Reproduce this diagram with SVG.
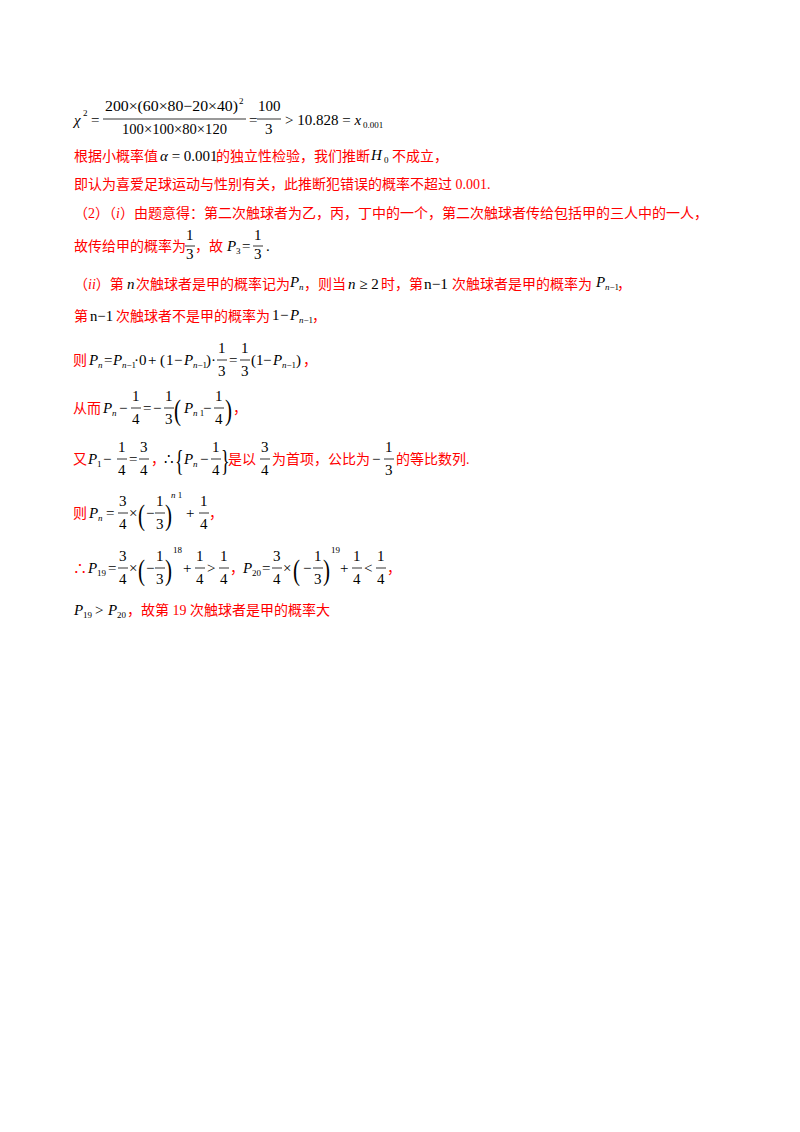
<svg xmlns="http://www.w3.org/2000/svg" width="800" height="1132" viewBox="0 0 800 1132">
<style>
.r{fill:#ff0000;font-family:"Liberation Serif","Noto Sans CJK SC",serif;font-size:14px}
.m{fill:#000;font-family:"Liberation Serif",serif;font-size:15px}
.i{font-style:italic}
.s{font-size:9px}
.f{stroke:#000;stroke-width:0.8}
.b{fill:#000;font-family:"Liberation Serif",serif;font-size:30px}
</style>
<rect width="800" height="1132" fill="#fff"/>
<g id="line1">
<text class="m i" x="74" y="125">χ</text><text class="m s" x="83" y="116">2</text>
<text class="m" x="91" y="125">=</text>
<text class="m" x="105" y="111" textLength="133" lengthAdjust="spacingAndGlyphs">200×(60×80−20×40)</text><text class="m s" x="239" y="104">2</text>
<line class="f" x1="103" y1="119" x2="246" y2="119"/>
<text class="m" x="122" y="134" textLength="105" lengthAdjust="spacingAndGlyphs">100×100×80×120</text>
<text class="m" x="249" y="125">=</text>
<text class="m" x="258" y="111">100</text><line class="f" x1="257" y1="119" x2="281" y2="119"/><text class="m" x="265" y="134">3</text>
<text class="m" x="285" y="125">&gt; 10.828 = <tspan class="i">x</tspan></text><text class="m s" x="363" y="128">0.001</text>
</g>
<g id="line2">
<text class="r" x="74" y="161">根据小概率值</text>
<text class="m" x="160" y="161"><tspan class="i">α</tspan> = 0.001</text>
<text class="r" x="216" y="161">的独立性检验，我们推断</text>
<text class="m i" x="371" y="160" font-size="16">H</text><text class="m s" x="384" y="163">0</text>
<text class="r" x="392" y="161">不成立，</text>
</g>
<text class="r" x="74" y="189">即认为喜爱足球运动与性别有关，此推断犯错误的概率不超过 0.001.</text>
<text class="r" x="74" y="218">（2）（<tspan font-style="italic">i</tspan>）由题意得：第二次触球者为乙，丙，丁中的一个，第二次触球者传给包括甲的三人中的一人，</text>
<g id="line5">
<text class="r" x="74" y="251">故传给甲的概率为</text>
<text class="m" x="186" y="240">1</text><line class="f" x1="185" y1="246" x2="195" y2="246"/><text class="m" x="186" y="259">3</text>
<text class="r" x="195" y="251">，故</text>
<text class="m i" x="227" y="251">P</text><text class="m s" x="236" y="254">3</text>
<text class="m" x="242" y="251">=</text>
<text class="m" x="254" y="240">1</text><line class="f" x1="253" y1="246" x2="263" y2="246"/><text class="m" x="254" y="259">3</text>
<text class="m" x="266" y="251">.</text>
</g>
<g id="line6">
<text class="r" x="74" y="289">（<tspan font-style="italic">ii</tspan>）第</text>
<text class="m i" x="127" y="289">n</text>
<text class="r" x="136" y="289">次触球者是甲的概率记为</text>
<text class="m i" x="290" y="287" font-size="16">P</text><text class="m s i" x="299" y="290">n</text>
<text class="r" x="304" y="289">，则当</text>
<text class="m" x="348" y="289"><tspan class="i">n</tspan> ≥ 2</text>
<text class="r" x="381" y="289">时，第</text>
<text class="m" x="424" y="289" textLength="24" lengthAdjust="spacingAndGlyphs">n−1</text>
<text class="r" x="452" y="289">次触球者是甲的概率为</text>
<text class="m i" x="596" y="287" font-size="16">P</text><text class="m s" x="605" y="290"><tspan class="i">n</tspan>−1</text>
<text class="r" x="617" y="289">，</text>
</g>
<g id="line7">
<text class="r" x="74" y="321">第</text>
<text class="m" x="90" y="321" textLength="23" lengthAdjust="spacingAndGlyphs">n−1</text>
<text class="r" x="116" y="321">次触球者不是甲的概率为</text>
<text class="m" x="272" y="320">1</text><text class="m" x="280" y="320">−</text><text class="m i" x="290" y="320">P</text><text class="m s" x="299" y="323"><tspan class="i">n</tspan>−1</text>
<text class="r" x="312" y="321">，</text>
</g>
<g id="line8">
<text class="r" x="73" y="365">则</text>
<text class="m i" x="89" y="365">P</text><text class="m s i" x="98" y="368">n</text>
<text class="m" x="104" y="365">=</text>
<text class="m i" x="113" y="365">P</text><text class="m s" x="122" y="368"><tspan class="i">n</tspan>−1</text>
<text class="m" x="134" y="365">·</text><text class="m" x="139" y="365">0</text><text class="m" x="148" y="365">+</text>
<text class="m" x="160" y="365">(</text><text class="m" x="166" y="365">1</text><text class="m" x="174" y="365">−</text>
<text class="m i" x="184" y="365">P</text><text class="m s" x="193" y="368"><tspan class="i">n</tspan>−1</text>
<text class="m" x="206" y="365">)</text><text class="m" x="211" y="365">·</text>
<text class="m" x="218" y="353">1</text><line class="f" x1="217" y1="360" x2="227" y2="360"/><text class="m" x="218" y="376">3</text>
<text class="m" x="229" y="365">=</text>
<text class="m" x="241" y="353">1</text><line class="f" x1="240" y1="360" x2="250" y2="360"/><text class="m" x="241" y="376">3</text>
<text class="m" x="251" y="365">(</text><text class="m" x="256" y="365">1</text><text class="m" x="263" y="365">−</text>
<text class="m i" x="273" y="365">P</text><text class="m s" x="282" y="368"><tspan class="i">n</tspan>−1</text>
<text class="m" x="296" y="365">)</text>
<text class="r" x="303" y="365">，</text>
</g>
<g id="line9">
<text class="r" x="73" y="413">从而</text>
<text class="m i" x="103" y="413">P</text><text class="m s i" x="112" y="416">n</text>
<text class="m" x="119" y="413">−</text>
<text class="m" x="132" y="401">1</text><line class="f" x1="131" y1="408" x2="141" y2="408"/><text class="m" x="132" y="424">4</text>
<text class="m" x="143" y="413">=</text><text class="m" x="153" y="413">−</text>
<text class="m" x="165" y="401">1</text><line class="f" x1="164" y1="408" x2="174" y2="408"/><text class="m" x="165" y="424">3</text>
<text class="b" x="174" y="420" transform="translate(174 420) scale(0.7 1) translate(-174 -420)">(</text>
<text class="m i" x="184" y="413">P</text><text class="m s" x="193" y="416"><tspan class="i">n</tspan> 1</text>
<text class="m" x="203" y="413">−</text>
<text class="m" x="215" y="401">1</text><line class="f" x1="214" y1="408" x2="224" y2="408"/><text class="m" x="215" y="424">4</text>
<text class="b" x="225" y="420" transform="translate(225 420) scale(0.7 1) translate(-225 -420)">)</text>
<text class="r" x="233" y="413">，</text>
</g>
<g id="line10">
<text class="r" x="73" y="464">又</text>
<text class="m i" x="88" y="464">P</text><text class="m s" x="97" y="467">1</text>
<text class="m" x="103" y="464">−</text>
<text class="m" x="118" y="452">1</text><line class="f" x1="117" y1="459" x2="127" y2="459"/><text class="m" x="118" y="475">4</text>
<text class="m" x="129" y="464">=</text>
<text class="m" x="140" y="452">3</text><line class="f" x1="139" y1="459" x2="149" y2="459"/><text class="m" x="140" y="475">4</text>
<text class="r" x="151" y="464">，</text>
<text class="m" x="164" y="464">∴</text>
<text class="b" x="175" y="470" transform="translate(175 470) scale(0.6 1) translate(-175 -470)">{</text>
<text class="m i" x="184" y="464">P</text><text class="m s i" x="193" y="467">n</text>
<text class="m" x="200" y="464">−</text>
<text class="m" x="212" y="452">1</text><line class="f" x1="211" y1="459" x2="221" y2="459"/><text class="m" x="212" y="475">4</text>
<text class="b" x="221" y="470" transform="translate(221 470) scale(0.6 1) translate(-221 -470)">}</text>
<text class="r" x="228" y="464">是以</text>
<text class="m" x="261" y="452">3</text><line class="f" x1="260" y1="459" x2="270" y2="459"/><text class="m" x="261" y="475">4</text>
<text class="r" x="272" y="464">为首项，公比为</text>
<text class="m" x="372" y="464">−</text>
<text class="m" x="385" y="452">1</text><line class="f" x1="384" y1="459" x2="394" y2="459"/><text class="m" x="385" y="475">3</text>
<text class="r" x="396" y="464">的等比数列.</text>
</g>
<g id="line11">
<text class="r" x="73" y="518">则</text>
<text class="m i" x="89" y="518">P</text><text class="m s i" x="98" y="521">n</text>
<text class="m" x="106" y="518">=</text>
<text class="m" x="119" y="506">3</text><line class="f" x1="118" y1="513" x2="128" y2="513"/><text class="m" x="119" y="529">4</text>
<text class="m" x="129" y="518">×</text>
<text class="b" x="138" y="525" transform="translate(138 525) scale(0.7 1) translate(-138 -525)">(</text>
<text class="m" x="146" y="518">−</text>
<text class="m" x="156" y="506">1</text><line class="f" x1="155" y1="513" x2="165" y2="513"/><text class="m" x="156" y="529">3</text>
<text class="b" x="165" y="525" transform="translate(165 525) scale(0.7 1) translate(-165 -525)">)</text>
<text class="m s" x="171" y="498"><tspan class="i">n</tspan>  1</text>
<text class="m" x="186" y="518">+</text>
<text class="m" x="200" y="506">1</text><line class="f" x1="199" y1="513" x2="209" y2="513"/><text class="m" x="200" y="529">4</text>
<text class="r" x="209" y="518">，</text>
</g>
<g id="line12">
<text class="r" x="73" y="573">∴</text>
<text class="m i" x="88" y="573">P</text><text class="m s" x="97" y="576">19</text>
<text class="m" x="108" y="573">=</text>
<text class="m" x="119" y="561">3</text><line class="f" x1="118" y1="568" x2="128" y2="568"/><text class="m" x="119" y="584">4</text>
<text class="m" x="129" y="573">×</text>
<text class="b" x="138" y="580" transform="translate(138 580) scale(0.7 1) translate(-138 -580)">(</text>
<text class="m" x="146" y="573">−</text>
<text class="m" x="156" y="561">1</text><line class="f" x1="155" y1="568" x2="165" y2="568"/><text class="m" x="156" y="584">3</text>
<text class="b" x="165" y="580" transform="translate(165 580) scale(0.7 1) translate(-165 -580)">)</text>
<text class="m s" x="173" y="553">18</text>
<text class="m" x="183" y="573">+</text>
<text class="m" x="196" y="561">1</text><line class="f" x1="195" y1="568" x2="205" y2="568"/><text class="m" x="196" y="584">4</text>
<text class="m" x="207" y="573">&gt;</text>
<text class="m" x="220" y="561">1</text><line class="f" x1="219" y1="568" x2="229" y2="568"/><text class="m" x="220" y="584">4</text>
<text class="r" x="230" y="573">，</text>
<text class="m i" x="243" y="573">P</text><text class="m s" x="252" y="576">20</text>
<text class="m" x="262" y="573">=</text>
<text class="m" x="273" y="561">3</text><line class="f" x1="272" y1="568" x2="282" y2="568"/><text class="m" x="273" y="584">4</text>
<text class="m" x="283" y="573">×</text>
<text class="b" x="293" y="580" transform="translate(293 580) scale(0.7 1) translate(-293 -580)">(</text>
<text class="m" x="303" y="573">−</text>
<text class="m" x="314" y="561">1</text><line class="f" x1="313" y1="568" x2="323" y2="568"/><text class="m" x="314" y="584">3</text>
<text class="b" x="323" y="580" transform="translate(323 580) scale(0.7 1) translate(-323 -580)">)</text>
<text class="m s" x="331" y="553">19</text>
<text class="m" x="340" y="573">+</text>
<text class="m" x="353" y="561">1</text><line class="f" x1="352" y1="568" x2="362" y2="568"/><text class="m" x="353" y="584">4</text>
<text class="m" x="364" y="573">&lt;</text>
<text class="m" x="377" y="561">1</text><line class="f" x1="376" y1="568" x2="386" y2="568"/><text class="m" x="377" y="584">4</text>
<text class="r" x="387" y="573">，</text>
</g>
<g id="line13">
<text class="m i" x="74" y="615">P</text><text class="m s" x="83" y="618">19</text>
<text class="m" x="95" y="615">&gt;</text>
<text class="m i" x="108" y="615">P</text><text class="m s" x="117" y="618">20</text>
<text class="r" x="127" y="615">，故第 19 次触球者是甲的概率大</text>
</g>
</svg>
